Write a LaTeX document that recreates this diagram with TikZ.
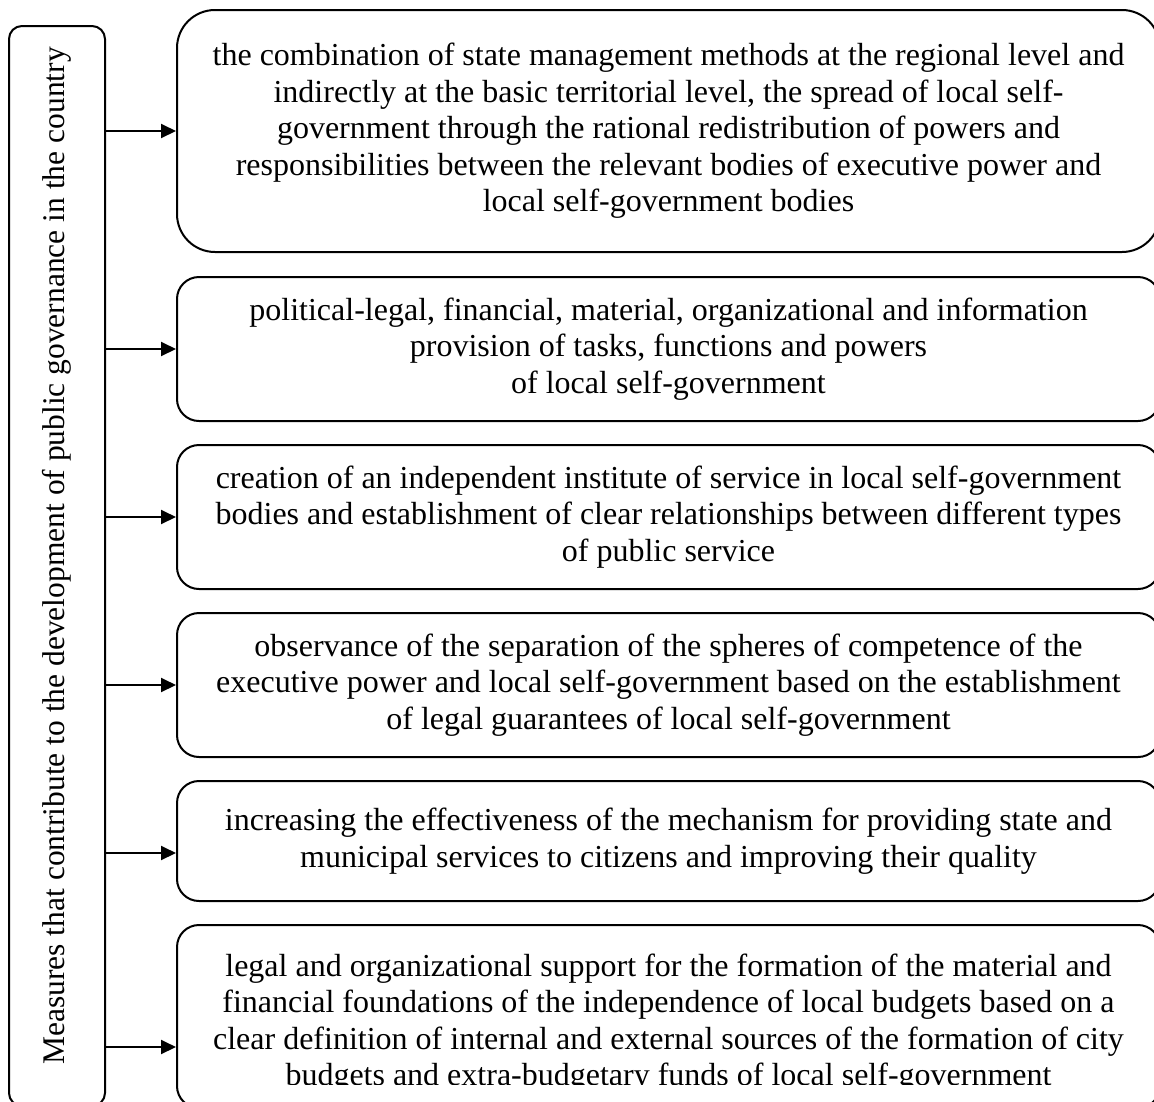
\documentclass[tikz,border=0pt]{standalone}
\usepackage{fontspec}
\setmainfont{Liberation Serif}
\usetikzlibrary{arrows.meta}
\begin{document}
\begin{tikzpicture}[x=1pt,y=-1pt,
  txtfont/.style={font=\fontsize{32}{36.5}\selectfont},
  box/.style={draw, line width=2pt, rectangle, rounded corners=22pt, inner sep=0pt, align=center, txtfont},
  plain/.style={inner sep=0pt, align=center, txtfont},
  arr/.style={line width=2pt, -{Triangle[length=15pt,width=14pt]}}]
\useasboundingbox (0,0) rectangle (1154,1101);
\clip (0,0) rectangle (1154,1101);
% left box
\node[box, rounded corners=13pt, minimum width=96pt, minimum height=1080pt] (L) at (57,566) {};
\node[plain, rotate=90, font=\fontsize{31.5}{36}\selectfont] (Lt) at (57,556) {Measures that contribute to the development of public governance in the country};
% right boxes
\node[box, rounded corners=38pt, minimum width=983pt, minimum height=242pt] (b1) at (668.5,131)
 {the combination of state management methods at the regional level and\\
  indirectly at the basic territorial level, the spread of local self-\\
  government through the rational redistribution of powers and\\
  responsibilities between the relevant bodies of executive power and\\
  local self-government bodies};
\node[box, minimum width=983pt, minimum height=144pt] (b2) at (668.5,349)
 {political-legal, financial, material, organizational and information\\
  provision of tasks, functions and powers\\
  of local self-government};
\node[box, minimum width=983pt, minimum height=144pt] (b3) at (668.5,517)
 {creation of an independent institute of service in local self-government\\
  bodies and establishment of clear relationships between different types\\
  of public service};
\node[box, minimum width=983pt, minimum height=144pt] (b4) at (668.5,685)
 {observance of the separation of the spheres of competence of the\\
  executive power and local self-government based on the establishment\\
  of legal guarantees of local self-government};
\node[box, minimum width=983pt, minimum height=120pt] (b5) at (668.5,841)
 {increasing the effectiveness of the mechanism for providing state and\\
  municipal services to citizens and improving their quality};
\node[box, minimum width=983pt, minimum height=183pt] (b6) at (668.5,1016.5) {};
\begin{scope}
\clip (177,925) rectangle (1160,1084.5);
\node[plain] (b6t) at (668.5,1023)
 {legal and organizational support for the formation of the material and\\
  financial foundations of the independence of local budgets based on a\\
  clear definition of internal and external sources of the formation of city\\
  budgets and extra-budgetary funds of local self-government};
\end{scope}
% connectors
\coordinate (a5) at (177,853);
\coordinate (a6) at (177,1047);
\draw[arr] (L.east |- b1.west) -- (b1.west);
\draw[arr] (L.east |- b2.west) -- (b2.west);
\draw[arr] (L.east |- b3.west) -- (b3.west);
\draw[arr] (L.east |- b4.west) -- (b4.west);
\draw[arr] (L.east |- a5) -- (b5.west |- a5);
\draw[arr] (L.east |- a6) -- (b6.west |- a6);
\end{tikzpicture}
\end{document}
